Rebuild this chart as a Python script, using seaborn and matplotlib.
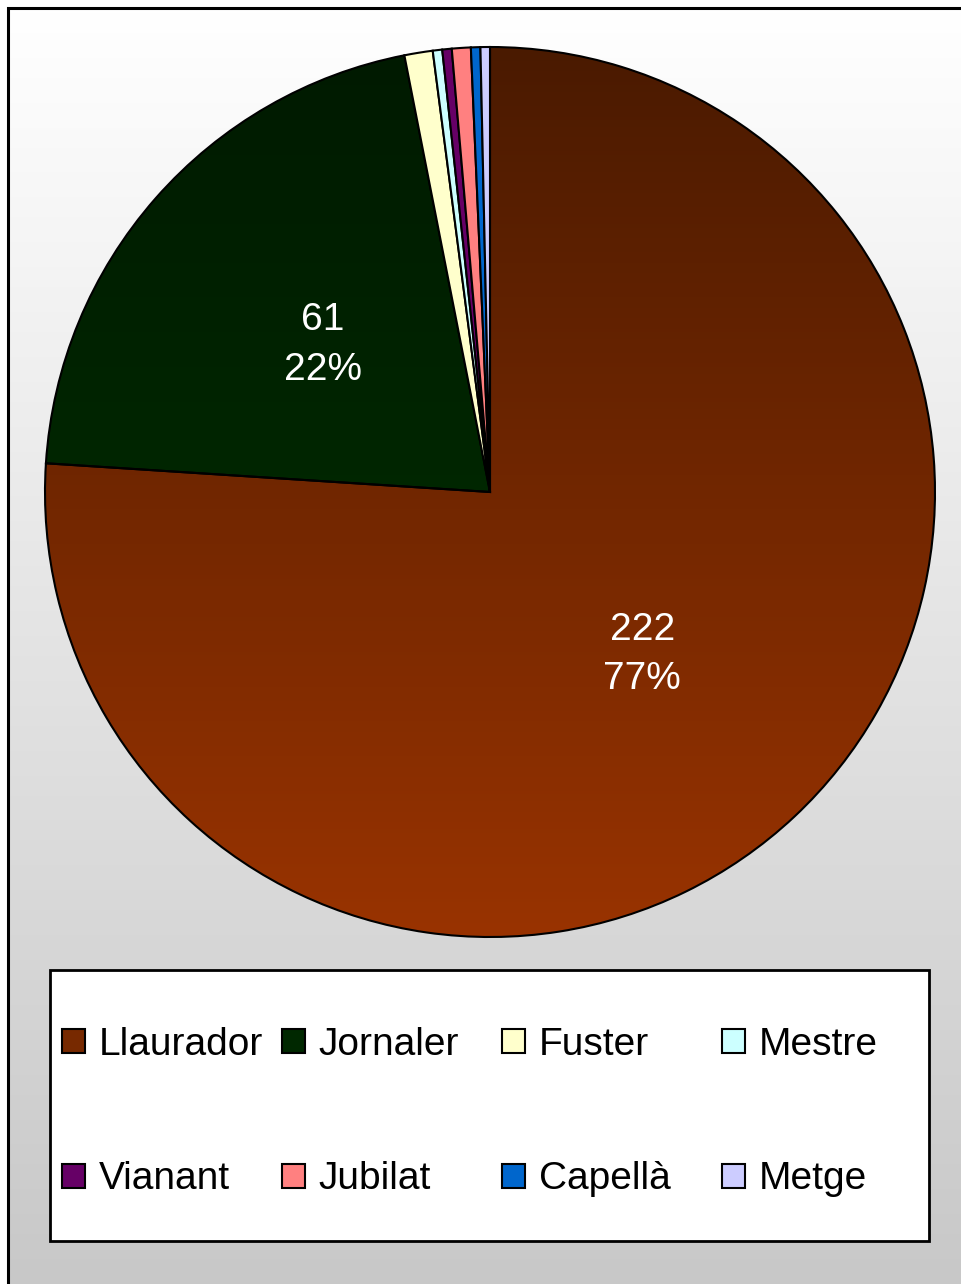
"""
Pie chart: professions (Llaurador, Jornaler, ...) with Excel-style gradient look
"""
import numpy as np
import matplotlib
matplotlib.use("Agg")
import matplotlib.pyplot as plt
from matplotlib.patches import Rectangle
from matplotlib.colors import LinearSegmentedColormap
import seaborn as sns

# data
professions = ['Llaurador', 'Jornaler', 'Fuster', 'Mestre',
               'Vianant', 'Jubilat', 'Capellà', 'Metge']
counts = [222, 61, 3, 1, 1, 2, 1, 1]
pct_labels = ['77%', '22%', '', '', '', '', '', '']
colors = ['#772900', '#002800', '#ffffcc', '#ccffff',
          '#660066', '#ff8080', '#0066cc', '#ccccff']
# vertical gradients (top, bottom) for the two big slices
gradients = {0: ('#4a1a00', '#993300'), 1: ('#001a00', '#003300')}

W, H = 962, 1284
sns.set_theme(style='white')
plt.rcParams['font.family'] = ['Liberation Sans', 'DejaVu Sans']
plt.rcParams['text.color'] = 'black'

fig = plt.figure(figsize=(W / 100, H / 100), dpi=100, facecolor='white')

# chart area background: white -> grey gradient, black border
bg = fig.add_axes([8 / W, 0, 1 - 8 / W, 1 - 8 / H], zorder=0)
bg.imshow(np.linspace(0, 1, 256).reshape(-1, 1), aspect='auto',
          cmap=LinearSegmentedColormap.from_list('bg', ['#ffffff', '#c8c8c8']),
          extent=[0, 1, 0, 1], origin='upper')
bg.set_xlim(0, 1)
bg.set_ylim(0, 1)
bg.axis('off')
fig.patches.append(Rectangle((8 / W, -0.01), 1.0, 1 - 8 / H + 0.01,
                             transform=fig.transFigure, fill=False,
                             edgecolor='black', linewidth=2.2, zorder=5))

# pie
cx, cy, r = 490, 492, 445
ax = fig.add_axes([(cx - r) / W, 1 - (cy + r) / H, 2 * r / W, 2 * r / H], zorder=1)
ax.patch.set_alpha(0)
labels = [f'{c}\n{p}' if p else '' for c, p in zip(counts, pct_labels)]
wedges, texts = ax.pie(counts, colors=colors, startangle=90, counterclock=False,
                       labels=labels, labeldistance=0.5,
                       wedgeprops=dict(edgecolor='black', linewidth=1.5))
ax.set_aspect('equal')
ax.axis('off')

for t in texts:
    t.set_ha('center')
    t.set_va('center')
    t.set_color('white')
    t.set_fontsize(28)
    t.set_linespacing(1.48)

for i, (top, bottom) in gradients.items():
    cmap = LinearSegmentedColormap.from_list(f'g{i}', [top, bottom])
    im = ax.imshow(np.linspace(0, 1, 256).reshape(-1, 1), aspect='auto',
                   cmap=cmap, extent=[-1, 1, -1, 1], origin='upper', zorder=0.5)
    im.set_clip_path(wedges[i])
    wedges[i].set_facecolor('none')
ax.set_xlim(-1, 1)
ax.set_ylim(-1, 1)

# legend box
fig.patches.append(Rectangle((50 / W, 1 - 1241 / H), 879 / W, 271 / H,
                             transform=fig.transFigure, facecolor='white',
                             edgecolor='black', linewidth=2, zorder=2))

col_x = [62, 282, 502, 722]
for k, x in enumerate(col_x):
    idx = [k, k + 4]
    leg = fig.legend([wedges[i] for i in idx], [professions[i] for i in idx],
                     loc='upper left', bbox_to_anchor=(x / W, 1 - 1027 / H),
                     frameon=False, borderpad=0, borderaxespad=0,
                     fontsize=28, handlelength=0.58, handleheight=0.58,
                     handletextpad=0.36, labelspacing=2.53, labelcolor='black')
    leg.set_zorder(3)
    for i, h in zip(idx, leg.legend_handles):
        h.set_facecolor(colors[i])
        h.set_edgecolor('black')
        h.set_linewidth(1.5)

fig.savefig('out.png', dpi=100, facecolor='white')
